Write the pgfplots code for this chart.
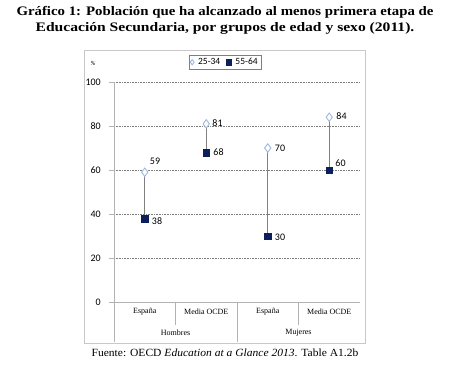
\documentclass[border=0pt]{standalone}
\usepackage{pgfplots}
\pgfplotsset{compat=1.18}
\usepackage{fontspec}
\setmainfont{Liberation Serif}
\newfontfamily\calibri{Carlito}
\definecolor{navy}{HTML}{0A1F5C}
\definecolor{lightblue}{HTML}{9DB9E0}
\definecolor{gridgrey}{HTML}{7F7F7F}
\definecolor{framegrey}{HTML}{C8C8C8}
\begin{document}
\begin{tikzpicture}[x=1pt,y=1pt]
\useasboundingbox (0,0) rectangle (450,365);
\node[font=\bfseries\fontsize{13}{14}\selectfont, inner sep=0pt] at (225,353) {\scalebox{1.14}[1]{Gráfico 1: Población que ha alcanzado al menos primera etapa de}};
\node[font=\bfseries\fontsize{13}{14}\selectfont, inner sep=0pt] at (225,337) {\scalebox{1.2}[1]{Educación Secundaria, por grupos de edad y sexo (2011).}};
\draw[framegrey, line width=0.8pt] (84,22) rectangle (365,315);
\node[font=\calibri\fontsize{6}{7}\selectfont] at (93,302) {\%};
\node[font=\fontsize{11}{12}\selectfont, inner sep=0pt] at (225,12) {\scalebox{1.05}[1]{Fuente: OECD \textit{Education at a Glance 2013}. Table A1.2b}};
\begin{axis}[
  at={(114pt,63pt)}, anchor=south west, scale only axis,
  width=246pt, height=220pt,
  xmin=-0.5, xmax=3.5, ymin=0, ymax=100,
  clip=false,
  axis lines=none,
  ytick={0,20,40,60,80,100},
  xtick=\empty,
  legend columns=2,
  legend style={at={(0.451,1.09)}, anchor=center, draw=gridgrey, font=\calibri\fontsize{9.5}{10}\selectfont, inner sep=1.5pt, column sep=2pt, /tikz/every even column/.append style={column sep=4pt}},
  legend image code/.code={\draw[#1, mark size=2.6pt] plot coordinates {(0pt,0pt)};},
]
% grid lines
\foreach \v in {20,40,60,80,100} {
  \edef\tmp{\noexpand\draw[gridgrey, densely dotted, line width=0.6pt] (axis cs:-0.5,\v) -- (axis cs:3.5,\v);}
  \tmp
}
\draw[framegrey!70!gray, line width=0.6pt] (axis cs:-0.5,0) -- (axis cs:3.5,0);
% y axis and separators
\draw[framegrey!70!gray, line width=0.8pt] (axis cs:-0.5,100) -- (axis cs:-0.5,-18);
\draw[framegrey!70!gray, line width=0.8pt] (axis cs:0.5,0) -- (axis cs:0.5,-10.5);
\draw[framegrey!70!gray, line width=0.8pt] (axis cs:2.5,0) -- (axis cs:2.5,-10.5);
\draw[framegrey!70!gray, line width=0.8pt] (axis cs:1.5,0) -- (axis cs:1.5,-18);
% y tick marks and labels
\foreach \v in {0,20,40,60,80,100} {
  \edef\tmp{\noexpand\draw[framegrey!70!gray, line width=0.6pt] (axis cs:-0.5,\v) -- ++(-5pt,0pt);
  \noexpand\node[anchor=east, font=\noexpand\calibri\noexpand\fontsize{10}{11}\noexpand\selectfont, inner sep=0pt] at ([xshift=-13pt]axis cs:-0.5,\v) {\v};}
  \tmp
}
% category labels
\foreach \x/\lab in {0/España,1/Media OCDE,2/España,3/Media OCDE} {
  \edef\tmp{\noexpand\node[font=\noexpand\fontsize{8}{9}\noexpand\selectfont] at (axis cs:\x,-4.6) {\lab};}
  \tmp
}
\node[font=\fontsize{8}{9}\selectfont] at (axis cs:0.5,-14) {Hombres};
\node[font=\fontsize{8}{9}\selectfont] at (axis cs:2.5,-14) {Mujeres};
% connecting lines
\addplot[gray, line width=0.9pt, forget plot] coordinates {(0,38) (0,59)};
\addplot[gray, line width=0.9pt, forget plot] coordinates {(1,68) (1,81)};
\addplot[gray, line width=0.9pt, forget plot] coordinates {(2,30) (2,70)};
\addplot[gray, line width=0.9pt, forget plot] coordinates {(3,60) (3,84)};
% series
\addplot[only marks, mark=diamond*, mark size=4.2pt, mark options={fill=white, draw=lightblue, line width=0.9pt}] coordinates {(0,59) (1,81) (2,70) (3,84)};
\addlegendentry{25-34}
\addplot[only marks, mark=square*, mark size=3.3pt, mark options={fill=navy, draw=navy}] coordinates {(0,38) (1,68) (2,30) (3,60)};
\addlegendentry{55-64}
% data labels
\tikzset{dl/.style={font=\calibri\fontsize{10}{11}\selectfont, inner sep=0pt, anchor=west}}
\node[dl] at ([xshift=5pt,yshift=11pt]axis cs:0,59) {59};
\node[dl] at ([xshift=7pt,yshift=-3pt]axis cs:0,38) {38};
\node[dl] at ([xshift=6pt,yshift=1pt]axis cs:1,81) {81};
\node[dl] at ([xshift=7pt]axis cs:1,68) {68};
\node[dl] at ([xshift=7pt]axis cs:2,70) {70};
\node[dl] at ([xshift=7pt,yshift=-1pt]axis cs:2,30) {30};
\node[dl] at ([xshift=7pt,yshift=1pt]axis cs:3,84) {84};
\node[dl] at ([xshift=6pt,yshift=7pt]axis cs:3,60) {60};
\end{axis}
\end{tikzpicture}
\end{document}
